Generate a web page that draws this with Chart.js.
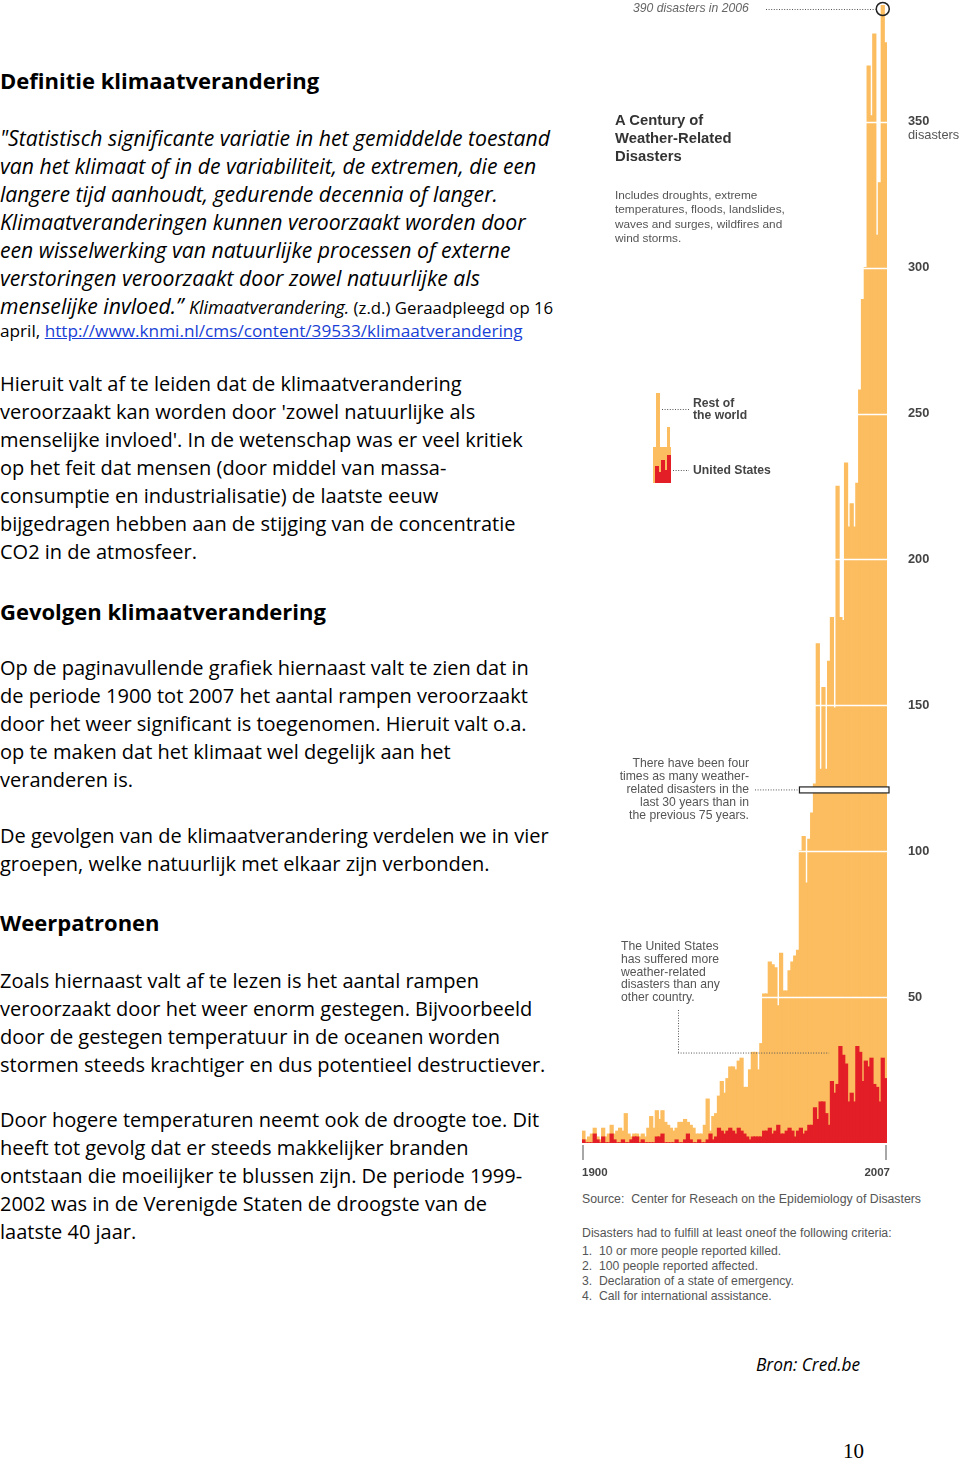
<!DOCTYPE html>
<html>
<head>
<meta charset="utf-8">
<script src="https://cdn.jsdelivr.net/npm/chart.js@4.4.1/dist/chart.umd.min.js"></script>
<style>
  body { margin: 0; width: 960px; height: 1462px; position: relative; background: #fff; overflow: hidden; }
  .t { position: absolute; left: 0; white-space: nowrap; font-family: "Open Sans", sans-serif; color: #000; }
  .h { font-size: 22px; font-weight: bold; line-height: 30px; }
  .p { font-size: 20px; line-height: 28px; }
  .i { font-style: italic; font-size: 21.2px; }
  .s { font-size: 17.2px; }
  a { color: #1a3fd6; text-decoration: underline; }
  .a { position: absolute; white-space: nowrap; font-family: "Liberation Sans", Arial, sans-serif; color: #555; font-size: 12.2px; }
  #chart { position: absolute; left: 575px; top: 0; }
  .lg { position: absolute; }
</style>
</head>
<body>

<div class="t h" style="top:65px">Definitie klimaatverandering</div>
<div class="t p i" style="top:124px">"Statistisch significante variatie in het gemiddelde toestand<br>van het klimaat of in de variabiliteit, de extremen, die een<br>langere tijd aanhoudt, gedurende decennia of langer.<br>Klimaatveranderingen kunnen veroorzaakt worden door<br>een wisselwerking van natuurlijke processen of externe<br>verstoringen veroorzaakt door zowel natuurlijke als<br>menselijke invloed.” <span style="font-size:17.9px">Klimaatverandering.</span><span style="font-style:normal;font-size:16.8px"> (z.d.) Geraadpleegd op 16</span></div>
<div class="t s" style="top:319px;line-height:24px">april, <a>http://www.knmi.nl/cms/content/39533/klimaatverandering</a></div>

<div class="t p" style="top:370px">Hieruit valt af te leiden dat de klimaatverandering<br>veroorzaakt kan worden door 'zowel natuurlijke als<br>menselijke invloed'. In de wetenschap was er veel kritiek<br>op het feit dat mensen (door middel van massa-<br>consumptie en industrialisatie) de laatste eeuw<br>bijgedragen hebben aan de stijging van de concentratie<br>CO2 in de atmosfeer.</div>

<div class="t h" style="top:596px">Gevolgen klimaatverandering</div>
<div class="t p" style="top:654px">Op de paginavullende grafiek hiernaast valt te zien dat in<br>de periode 1900 tot 2007 het aantal rampen veroorzaakt<br>door het weer significant is toegenomen. Hieruit valt o.a.<br>op te maken dat het klimaat wel degelijk aan het<br>veranderen is.</div>
<div class="t p" style="top:822px">De gevolgen van de klimaatverandering verdelen we in vier<br>groepen, welke natuurlijk met elkaar zijn verbonden.</div>

<div class="t h" style="top:907px">Weerpatronen</div>
<div class="t p" style="top:967px">Zoals hiernaast valt af te lezen is het aantal rampen<br>veroorzaakt door het weer enorm gestegen. Bijvoorbeeld<br>door de gestegen temperatuur in de oceanen worden<br>stormen steeds krachtiger en dus potentieel destructiever.</div>
<div class="t p" style="top:1106px">Door hogere temperaturen neemt ook de droogte toe. Dit<br>heeft tot gevolg dat er steeds makkelijker branden<br>ontstaan die moeilijker te blussen zijn. De periode 1999-<br>2002 was in de Verenigde Staten de droogste van de<br>laatste 40 jaar.</div>

<div class="t" style="left:756px;top:1353px;font-size:17.3px;font-style:italic">Bron: Cred.be</div>
<div class="t" style="left:843px;top:1439px;font-size:21px;font-family:'Liberation Serif',serif">10</div>

<canvas id="chart" width="385" height="1180"></canvas>

<!-- chart annotations -->
<div class="a" style="left:633px;top:1px;color:#666;font-style:italic">390 disasters in 2006</div>
<div class="a" style="left:615px;top:111px;font-size:14.8px;font-weight:bold;color:#333;line-height:18px">A Century of<br>Weather-Related<br>Disasters</div>
<div class="a" style="left:615px;top:188px;font-size:11.8px;line-height:14.3px">Includes droughts, extreme<br>temperatures, floods, landslides,<br>waves and surges, wildfires and<br>wind storms.</div>
<div class="a" style="left:908px;top:127px;font-size:12.8px">disasters</div>
<div class="a" style="left:693px;top:397px;font-weight:bold;color:#444;line-height:12px">Rest of<br>the world</div>
<div class="a" style="left:693px;top:463px;font-weight:bold;color:#444">United States</div>
<div class="a" style="left:590px;top:757px;width:159px;text-align:right;line-height:13px">There have been four<br>times as many weather-<br>related disasters in the<br>last 30 years than in<br>the previous 75 years.</div>
<div class="a" style="left:621px;top:940px;line-height:12.8px">The United States<br>has suffered more<br>weather-related<br>disasters than any<br>other country.</div>
<div class="a" style="left:582px;top:1192px;font-size:12.3px">Source:&nbsp; Center for Reseach on the Epidemiology of Disasters</div>
<div class="a" style="left:582px;top:1226px;font-size:12.3px">Disasters had to fulfill at least oneof the following criteria:</div>
<div class="a" style="left:582px;top:1244px;line-height:15px">1.<br>2.<br>3.<br>4.</div>
<div class="a" style="left:599px;top:1244px;line-height:15px">10 or more people reported killed.<br>100 people reported affected.<br>Declaration of a state of emergency.<br>Call for international assistance.</div>

<!-- little legend icon -->
<div class="lg" style="left:653px;top:447px;width:18px;height:36px;background:#fbbd5f"></div>
<div class="lg" style="left:656px;top:393px;width:4px;height:60px;background:#fbbd5f"></div>
<div class="lg" style="left:667px;top:427px;width:3px;height:30px;background:#fbbd5f"></div>
<div class="lg" style="left:655px;top:466px;width:4px;height:17px;background:#e31e26"></div>
<div class="lg" style="left:659px;top:472px;width:2px;height:11px;background:#e31e26"></div>
<div class="lg" style="left:661px;top:460px;width:4px;height:23px;background:#e31e26"></div>
<div class="lg" style="left:665px;top:470px;width:2px;height:13px;background:#e31e26"></div>
<div class="lg" style="left:667px;top:455px;width:4px;height:28px;background:#e31e26"></div>

<script>
const years = [
  1900, 1901, 1902, 1903, 1904, 1905, 1906, 1907, 1908, 1909,
  1910, 1911, 1912, 1913, 1914, 1915, 1916, 1917, 1918, 1919,
  1920, 1921, 1922, 1923, 1924, 1925, 1926, 1927, 1928, 1929,
  1930, 1931, 1932, 1933, 1934, 1935, 1936, 1937, 1938, 1939,
  1940, 1941, 1942, 1943, 1944, 1945, 1946, 1947, 1948, 1949,
  1950, 1951, 1952, 1953, 1954, 1955, 1956, 1957, 1958, 1959,
  1960, 1961, 1962, 1963, 1964, 1965, 1966, 1967, 1968, 1969,
  1970, 1971, 1972, 1973, 1974, 1975, 1976, 1977, 1978, 1979,
  1980, 1981, 1982, 1983, 1984, 1985, 1986, 1987, 1988, 1989,
  1990, 1991, 1992, 1993, 1994, 1995, 1996, 1997, 1998, 1999,
  2000, 2001, 2002, 2003, 2004, 2005, 2006, 2007
];

// all weather related disasters (whole bar)
const totalDisasters = [
  4, 1, 2, 3, 5, 2, 1, 5, 2, 3,
  6, 3, 4, 5, 4, 10, 3, 2, 3, 3,
  2, 3, 2, 5, 9, 5, 11, 8, 11, 7,
  6, 5, 4, 5, 7, 7, 8, 7, 6, 5,
  3, 3, 3, 6, 15, 4, 9, 10, 16, 21,
  17, 22, 26, 26, 25, 28, 29, 19, 19, 25,
  31, 31, 25, 34, 51, 51, 62, 61, 60, 47,
  65, 52, 52, 59, 62, 64, 66, 100, 105, 89,
  104, 113, 123, 171, 128, 156, 128, 165, 180, 149,
  225, 180, 179, 233, 211, 219, 211, 226, 258, 289,
  300, 369, 352, 380, 311, 329, 390, 377
];

// United States part (red)
const usDisasters = [
  1, 0, 0, 0, 3, 1, 0, 2, 0, 0,
  3, 1, 0, 0, 1, 0, 0, 1, 2, 2,
  0, 1, 0, 0, 0, 0, 2, 2, 3, 0,
  0, 0, 0, 1, 0, 0, 1, 3, 1, 0,
  0, 1, 0, 0, 1, 3, 1, 2, 5, 4,
  3, 4, 5, 4, 3, 5, 4, 3, 2, 1,
  2, 2, 2, 2, 4, 4, 5, 3, 4, 6,
  3, 3, 4, 5, 4, 2, 4, 5, 3, 4,
  6, 6, 12, 8, 14, 14, 10, 6, 21, 17,
  20, 33, 30, 27, 14, 17, 14, 33, 31, 21,
  28, 26, 29, 20, 19, 14, 29, 22
];

const yTicks = [50, 100, 150, 200, 250, 300, 350];

const orange = "#fbbd5f";
const red = "#e31e26";

function dotted(ctx, x1, y1, x2, y2) {
  ctx.save();
  ctx.strokeStyle = "#555";
  ctx.lineWidth = 1;
  ctx.setLineDash([1, 1.6]);
  ctx.beginPath();
  ctx.moveTo(x1, y1);
  ctx.lineTo(x2, y2);
  ctx.stroke();
  ctx.restore();
}

// canvas sits at page x 575, so page x -> canvas x
const px = (v) => v - 575;

const overlay = {
  id: "overlay",
  afterDatasetsDraw(chart) {
    const ctx = chart.ctx;
    const a = chart.chartArea;
    const x = chart.scales.x;
    const y = chart.scales.y;
    const bw = (a.right - a.left) / years.length;
    ctx.save();

    // white grid lines over the bars
    ctx.strokeStyle = "#fff";
    ctx.lineWidth = 1.5;
    yTicks.forEach((v) => {
      const py = Math.round(y.getPixelForValue(v)) + 0.5;
      ctx.beginPath();
      ctx.moveTo(a.left, py);
      ctx.lineTo(a.right, py);
      ctx.stroke();
    });

    // x axis: end ticks and labels
    ctx.strokeStyle = "#8a8a8a";
    ctx.lineWidth = 1.5;
    [a.left + 1, a.right - 1].forEach((xx) => {
      ctx.beginPath();
      ctx.moveTo(xx, a.bottom + 2);
      ctx.lineTo(xx, a.bottom + 17);
      ctx.stroke();
    });
    ctx.fillStyle = "#444";
    ctx.font = "bold 11.5px 'Liberation Sans', Arial";
    ctx.textBaseline = "middle";
    ctx.textAlign = "left";
    ctx.fillText(String(years[0]), a.left, a.bottom + 30);
    ctx.textAlign = "right";
    ctx.fillText(String(years[years.length - 1]), a.right + 3, a.bottom + 30);

    // circle on the 2006 peak
    const i06 = years.indexOf(2006);
    const cx = x.getPixelForValue(i06);
    const cy = y.getPixelForValue(totalDisasters[i06]) + 4;
    ctx.strokeStyle = "#222";
    ctx.lineWidth = 1.5;
    ctx.beginPath();
    ctx.arc(cx, cy, 6.5, 0, Math.PI * 2);
    ctx.stroke();
    dotted(ctx, px(766), cy + 0.5, cx - 7, cy + 0.5);

    // box marking the level of "four times as many"
    const i77 = years.indexOf(1977);
    const by = y.getPixelForValue(121);
    const bx = x.getPixelForValue(i77) - bw / 2;
    ctx.fillStyle = "#fff";
    ctx.fillRect(bx, by - 3, a.right + 2 - bx, 6);
    ctx.strokeStyle = "#222";
    ctx.lineWidth = 1.2;
    ctx.strokeRect(bx, by - 3, a.right + 2 - bx, 6);
    dotted(ctx, px(755), by, bx - 2, by);

    // pointer to the US bars
    const uy = y.getPixelForValue(31);
    const i88 = years.indexOf(1988);
    dotted(ctx, px(678) + 0.5, 1010, px(678) + 0.5, uy);
    dotted(ctx, px(678), uy + 0.5, x.getPixelForValue(i88) - bw, uy + 0.5);

    // legend pointers
    dotted(ctx, px(662), 409.5, px(689), 409.5);
    dotted(ctx, px(673), 470.5, px(689), 470.5);

    ctx.restore();
  },
};

new Chart(document.getElementById("chart"), {
  type: "bar",
  data: {
    labels: years,
    datasets: [
      {
        label: "United States",
        data: usDisasters,
        backgroundColor: red,
        grouped: false,
        barPercentage: 1,
        categoryPercentage: 1,
        borderWidth: 0,
        inflateAmount: 0.7,
      },
      {
        label: "Total",
        data: totalDisasters,
        backgroundColor: orange,
        grouped: false,
        barPercentage: 1,
        categoryPercentage: 1,
        borderWidth: 0,
        inflateAmount: 0.7,
      },
    ],
  },
  options: {
    responsive: false,
    animation: false,
    layout: { padding: { left: 7, top: 5, right: 0, bottom: 37 } },
    plugins: { legend: { display: false }, tooltip: { enabled: false } },
    scales: {
      x: { display: false },
      y: {
        position: "right",
        min: 0,
        max: 390,
        grid: { display: false, drawTicks: false },
        border: { display: false },
        ticks: {
          stepSize: 50,
          includeBounds: false,
          padding: 21,
          color: "#444",
          font: { family: "'Liberation Sans', Arial", size: 12.8, weight: "bold" },
          callback: (v) => (yTicks.includes(v) ? v : ""),
        },
        afterFit: (s) => {
          s.width = 73;
          s.paddingTop = 0;
          s.paddingBottom = 0;
        },
      },
    },
  },
  plugins: [overlay],
});
</script>
</body>
</html>
